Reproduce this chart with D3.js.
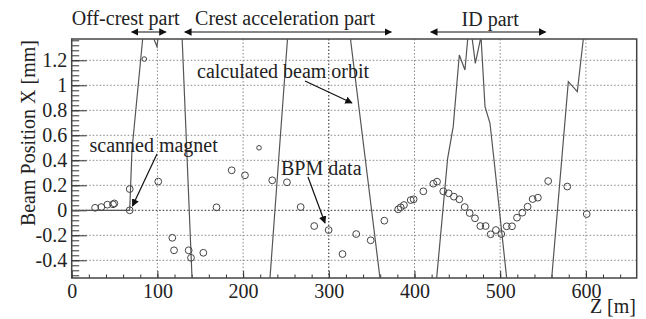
<!DOCTYPE html>
<head>
  <meta charset="utf-8">
  <script src="https://d3js.org/d3.v7.min.js"></script>
  <style>
    body { margin:0; background:#fff; }
    text { font-family: "Liberation Serif", "Times New Roman", serif; font-size: 20px; fill: #222; }
    .axis path { display: none; }
    .axis line { stroke: #333; stroke-width: 1; }
    .grid line { stroke: #888; stroke-width: 1; stroke-dasharray: 1.5,2; }
    .grid line.dark { stroke: #222; }
    .orbit { fill: none; stroke: #555; stroke-width: 1.2; }
    .bpm { fill: none; stroke: #444; stroke-width: 1; }
    .note { stroke: #111; stroke-width: 1.2; fill: none; }
  </style>
</head>

<body>
  <script>
    // BPM measurements (Z in m, X in mm)
    var bpmZ = [27.3, 34.6, 41.6, 48.2, 49.8, 67.7, 67.7, 101, 117.4, 119.4, 136.5, 139.2, 153.6,
                169, 186.7, 202.2, 234, 251.2, 267.2, 283, 299.8, 316, 332, 348.9,
                364.8, 381, 383.9, 387.7, 395.6, 399, 410.3, 422, 426.3, 433.6, 439.9, 446, 452.3,
                458.6, 464.4, 470.6, 476.8, 483, 488.9, 495, 501.3, 507.6, 513.8, 519.6, 525.8,
                532, 537.9, 544, 556, 578.3, 601];
    var bpmX = [0.02, 0.026, 0.045, 0.048, 0.055, 0.17, 0.0, 0.23, -0.22, -0.32, -0.32, -0.38, -0.34,
                0.024, 0.32, 0.28, 0.24, 0.224, 0.026, -0.126, -0.158, -0.35, -0.19, -0.24,
                -0.083, 0.008, 0.024, 0.042, 0.082, 0.088, 0.152, 0.213, 0.229, 0.152, 0.136, 0.109, 0.088,
                0.026, -0.022, -0.064, -0.126, -0.126, -0.192, -0.158, -0.19, -0.128, -0.128, -0.059, -0.019,
                0.029, 0.09, 0.101, 0.234, 0.19, -0.03];
    // two readings drawn with a smaller marker
    var bpmSmallZ = [84.7, 218.6];
    var bpmSmallX = [1.21, 0.50];

    // calculated orbit (points outside the frame are clipped)
    var orbitZ = [0, 67.7, 70.3, 82.8, 88, 96, 99.5, 100.7, 106, 120, 128.9, 140.4, 185, 231.4, 251.8,
                  290, 325.3, 359.7, 395, 425.9, 438.7, 445.2, 452.3, 458.9, 462.1, 464.5, 467.4, 471.0,
                  477.6, 482.3, 488.1, 492.8, 507.6, 535, 560.1, 579.5, 590.0, 597.0, 600];
    var orbitX = [0, 0, 0.48, 1.37, 1.75, 1.37, 1.31, 1.37, 1.7, 2.0, 1.37, -0.54, -1.6, -0.54, 1.37,
                  2.6, 1.37, -0.54, -1.5, -0.54, 0.416, 0.669, 1.242, 1.122, 1.37, 1.45, 1.37, 1.176,
                  1.39, 0.829, 0.696, 0.402, -0.544, -1.3, -0.544, 1.029, 0.949, 1.37, 1.52];

    // section ranges in Z [m] and their labels
    var sections = [[70, 110], [132, 373], [419, 553]];
    var sectionLabels = ["Off-crest part", "Crest acceleration part", "ID part"];
    var sectionLabelZ = [0, 144, 455];

    var xMajor = [0, 100, 200, 300, 400, 500, 600];
    var yMajor = [-0.4, -0.2, 0, 0.2, 0.4, 0.6, 0.8, 1, 1.2];

    var W = 646, H = 319;
    var margin = {top: 39, right: 9.3, bottom: 41, left: 71.7};
    var width = W - margin.left - margin.right,
        height = H - margin.top - margin.bottom;

    var svg = d3.select("body").append("svg")
        .attr("width", W)
        .attr("height", H)
        .attr("font-family", "Liberation Serif, serif");

    var g = svg.append("g")
        .attr("transform", "translate(" + margin.left + "," + margin.top + ")");

    var x = d3.scaleLinear().domain([0, 659.3]).range([0, width]);
    var y = d3.scaleLinear().domain([-0.5416, 1.3704]).range([height, 0]);

    var defs = svg.append("defs");
    defs.append("clipPath")
        .attr("id", "frameClip")
      .append("rect")
        .attr("width", width)
        .attr("height", height);

    // grid
    var grid = g.append("g").attr("class", "grid");
    grid.selectAll("line.gx")
        .data(xMajor.filter(function(d) { return d > 0; }))
      .enter().append("line")
        .attr("class", function(d) { return d === 300 ? "gx dark" : "gx"; })
        .attr("x1", function(d) { return x(d); })
        .attr("x2", function(d) { return x(d); })
        .attr("y1", 0).attr("y2", height);
    grid.selectAll("line.gy")
        .data(yMajor)
      .enter().append("line")
        .attr("class", function(d) { return d === 0 ? "gy dark" : "gy"; })
        .attr("x1", 0).attr("x2", width)
        .attr("y1", function(d) { return y(d); })
        .attr("y2", function(d) { return y(d); });

    var fmt = function(d) { return d === 0 ? "0" : String(+d.toFixed(1)); };

    // x axis: ticks point into the frame
    g.append("g").attr("class", "axis")
        .attr("transform", "translate(0," + height + ")")
        .call(d3.axisBottom(x).tickValues(d3.range(0, 641, 20)).tickSize(-3.5).tickSizeOuter(0).tickFormat(""));
    g.append("g").attr("class", "axis")
        .attr("transform", "translate(0," + height + ")")
        .call(d3.axisBottom(x).tickValues(xMajor).tickSize(-7).tickSizeOuter(0).tickPadding(6).tickFormat(fmt));

    // y axis
    var yMinor = d3.range(-13, 35).map(function(i) { return i * 0.04; });
    g.append("g").attr("class", "axis")
        .call(d3.axisLeft(y).tickValues(yMinor).tickSize(-7.5).tickSizeOuter(0).tickFormat(""));
    g.append("g").attr("class", "axis")
        .call(d3.axisLeft(y).tickValues(yMajor).tickSize(-15).tickSizeOuter(0).tickPadding(4.5).tickFormat(fmt));

    // frame
    g.append("rect")
        .attr("width", width)
        .attr("height", height)
        .attr("fill", "none")
        .attr("stroke", "#444")
        .attr("stroke-width", 1.5);

    // orbit
    var orbit = orbitZ.map(function(z, i) { return [z, orbitX[i]]; });
    var line = d3.line()
        .x(function(d) { return x(d[0]); })
        .y(function(d) { return y(d[1]); });
    g.append("path")
        .datum(orbit)
        .attr("class", "orbit")
        .attr("clip-path", "url(#frameClip)")
        .attr("d", line);

    // BPM data
    g.selectAll("circle.big")
        .data(bpmZ.map(function(z, i) { return [z, bpmX[i]]; }))
      .enter().append("circle")
        .attr("class", "bpm big")
        .attr("cx", function(d) { return x(d[0]); })
        .attr("cy", function(d) { return y(d[1]); })
        .attr("r", 3.4);
    g.selectAll("circle.small")
        .data(bpmSmallZ.map(function(z, i) { return [z, bpmSmallX[i]]; }))
      .enter().append("circle")
        .attr("class", "bpm small")
        .attr("cx", function(d) { return x(d[0]); })
        .attr("cy", function(d) { return y(d[1]); })
        .attr("r", 2.3);

    // axis titles
    svg.append("text")
        .attr("transform", "translate(35,40) rotate(-90)")
        .attr("text-anchor", "end")
        .text("Beam Position X [mm]");
    svg.append("text")
        .attr("x", W - 10)
        .attr("y", 313)
        .attr("text-anchor", "end")
        .text("Z [m]");

    // arrowheads
    defs.append("marker")
        .attr("id", "head")
        .attr("viewBox", "0 0 10 10")
        .attr("refX", 9).attr("refY", 5)
        .attr("markerWidth", 7.5).attr("markerHeight", 7.5)
        .attr("markerUnits", "userSpaceOnUse")
        .attr("orient", "auto-start-reverse")
      .append("path")
        .attr("d", "M0,0 L10,5 L0,10 z")
        .attr("fill", "#111");

    // section markers above the frame
    var arrowY = -7;
    g.selectAll("line.section")
        .data(sections)
      .enter().append("line")
        .attr("class", "note section")
        .attr("x1", function(d) { return x(d[0]); })
        .attr("x2", function(d) { return x(d[1]); })
        .attr("y1", arrowY).attr("y2", arrowY)
        .attr("marker-start", "url(#head)")
        .attr("marker-end", "url(#head)");

    g.selectAll("text.section")
        .data(sectionLabels)
      .enter().append("text")
        .attr("class", "section")
        .attr("x", function(d, i) { return x(sectionLabelZ[i]); })
        .attr("y", function(d, i) { return i === 2 ? -13 : -14; })
        .text(function(d) { return d; });

    // annotations inside the plot
    function note(label, tx, ty, from, to) {
      svg.append("text").attr("x", tx).attr("y", ty).text(label);
      svg.append("line")
          .attr("class", "note")
          .attr("x1", from[0]).attr("y1", from[1])
          .attr("x2", to[0]).attr("y2", to[1])
          .attr("marker-end", "url(#head)");
    }
    note("calculated beam orbit", 197, 78, [305, 81], [352, 103]);
    note("scanned magnet", 89.5, 151.5, [157, 154], [132.5, 206]);
    note("BPM data", 281, 175, [308, 177], [325, 223]);
  </script>
</body>
